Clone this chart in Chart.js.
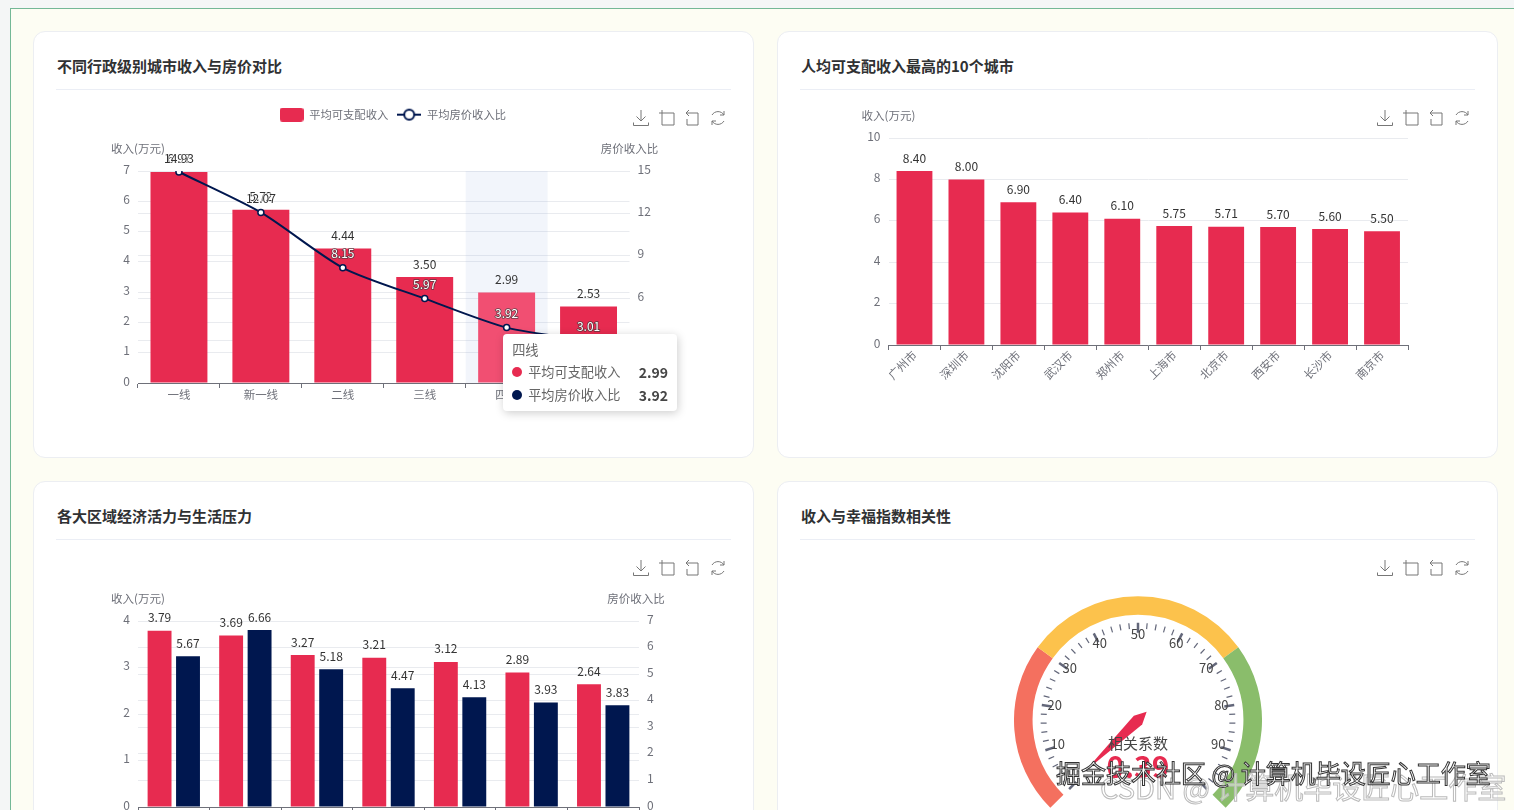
<!DOCTYPE html>
<html>
<head>
<meta charset="utf-8">
<script src="https://cdn.jsdelivr.net/npm/chart.js@4/dist/chart.umd.js"></script>
<style>
  html, body { margin: 0; height: 810px; overflow: hidden; background: #f4f6f6; }
  body { font-family: "Noto Sans CJK SC", sans-serif; position: relative; width: 1514px; }
  .frame { position: absolute; left: 10px; top: 8px; width: 1520px; height: 900px; border: 1px solid #74b896; background: #fdfdf3; }
  .card { position: absolute; background: #fff; border: 1px solid #eceef2; border-radius: 12px; box-sizing: border-box; width: 721px; }
  .card h3 { position: absolute; left: 23px; top: 23px; margin: 0; font-size: 15px; line-height: 22px; font-weight: 700; color: #303133; }
  .card hr { position: absolute; left: 22px; right: 22px; top: 57px; margin: 0; border: 0; border-top: 1px solid #ebeef5; }
  .card canvas { position: absolute; left: 0; }
  .tools { position: absolute; display: flex; gap: 7.6px; }
  .tools svg { width: 18px; height: 18px; fill: none; stroke: #777; stroke-width: 1; }
  .tip { position: absolute; width: 174px; height: 77px; box-sizing: border-box; background: #fff; border-radius: 4px; box-shadow: 1px 2px 10px rgba(0,0,0,.2); padding: 5px 9px 4px 9px; font-size: 13.2px; line-height: 22.5px; color: #666; }
  .tip div { display: flex; align-items: center; }
  .tip i { width: 10px; height: 10px; border-radius: 50%; margin-right: 6px; }
  .tip b { margin-left: auto; color: #464646; font-size: 14px; }
  .mark { position: absolute; white-space: nowrap; }
  #mark1 { left: 1056px; top: 755px; font-size: 25px; line-height: 34px; color: #fff; -webkit-text-stroke: 1px #333; }
  #mark2 { left: 1100px; top: 768px; font-size: 29px; line-height: 36px; color: rgba(255,255,255,.5); -webkit-text-stroke: 1px #bbb; }
</style>
</head>
<body>
<div class="frame"></div>

<div class="card" style="left:33px;top:31px;height:427px">
  <h3>不同行政级别城市收入与房价对比</h3><hr>
  <canvas id="tierChart" style="top:68px"></canvas>
</div>
<div class="card" style="left:777px;top:31px;height:427px">
  <h3>人均可支配收入最高的10个城市</h3><hr>
  <canvas id="cityChart" style="top:68px"></canvas>
</div>
<div class="card" style="left:33px;top:481px;height:420px">
  <h3>各大区域经济活力与生活压力</h3><hr>
  <canvas id="regionChart" style="top:68px"></canvas>
</div>
<div class="card" style="left:777px;top:481px;height:420px">
  <h3>收入与幸福指数相关性</h3><hr>
  <canvas id="gaugeChart"></canvas>
</div>

<div class="mark" id="mark2">CSDN @ 计算机毕设匠心工作室</div>
<div class="mark" id="mark1">掘金技术社区 @ 计算机毕设匠心工作室</div>

<script>
// chart data
const tierLabels = ["一线", "新一线", "二线", "三线", "四线", "五线"];
const tierIncome = [6.97, 5.72, 4.44, 3.5, 2.99, 2.53];
const tierRatio = [14.93, 12.07, 8.15, 5.97, 3.92, 3.01];

const cityLabels = ["广州市", "深圳市", "沈阳市", "武汉市", "郑州市", "上海市", "北京市", "西安市", "长沙市", "南京市"];
const cityIncome = [8.4, 8.0, 6.9, 6.4, 6.1, 5.75, 5.71, 5.7, 5.6, 5.5];

const regionLabels = ["华南", "华东", "华北", "华中", "西南", "东北", "西北"];
const regionIncome = [3.79, 3.69, 3.27, 3.21, 3.12, 2.89, 2.64];
const regionRatio = [5.67, 6.66, 5.18, 4.47, 4.13, 3.93, 3.83];

const gaugeZones = [30, 40, 30];
const gaugeTicks = [10, 20, 30, 40, 50, 60, 70, 80, 90];
const gaugeValue = 0.39;
const gaugeName = "相关系数";

const RED = "#e72b50";
const RED_HOVER = "#f14f72";
const NAVY = "#00174f";
const GRID = "#e9ebef";
const AXIS = "#6e7079";
const FONT = '"Noto Sans CJK SC", sans-serif';
const hoverIndex = 4;

Chart.defaults.font.family = FONT;
Chart.defaults.font.size = 12;
Chart.defaults.color = AXIS;
Chart.defaults.animation = false;
Chart.defaults.responsive = false;

// value labels on top of bars and points
const valueLabels = {
  id: "valueLabels",
  afterDatasetsDraw(chart) {
    const ctx = chart.ctx;
    chart.data.datasets.forEach((ds, i) => {
      const meta = chart.getDatasetMeta(i);
      meta.data.forEach((el, j) => {
        const text = ds.data[j].toFixed(2);
        ctx.save();
        ctx.font = "12px " + FONT;
        ctx.textAlign = "center";
        ctx.textBaseline = "bottom";
        if (ds.type === "line") {
          // white on the bar, dark once the label climbs above it
          const barTop = chart.getDatasetMeta(0).data[j].y;
          const above = el.y - 14 < barTop;
          ctx.lineWidth = 1.5;
          ctx.strokeStyle = above ? "rgba(255,255,255,.7)" : "rgba(60,60,60,.8)";
          ctx.fillStyle = above ? "#333" : "#fff";
          ctx.strokeText(text, el.x, el.y - 8);
          ctx.fillText(text, el.x, el.y - 8);
        } else {
          ctx.fillStyle = "#333";
          ctx.fillText(text, el.x, el.y - 7);
        }
        ctx.restore();
      });
    });
  },
};

// axis names sit above the axes, horizontally
const axisNames = {
  id: "axisNames",
  afterDraw(chart, args, opts) {
    const { ctx, chartArea } = chart;
    ctx.save();
    ctx.font = "11.5px " + FONT;
    ctx.fillStyle = AXIS;
    ctx.textAlign = "center";
    ctx.textBaseline = "middle";
    if (opts.left) ctx.fillText(opts.left, chartArea.left, chartArea.top - 22);
    if (opts.right) ctx.fillText(opts.right, chartArea.right - (opts.rightShift || 0), chartArea.top - 22);
    ctx.restore();
  },
};

// shaded band behind the hovered category
const hoverBand = {
  id: "hoverBand",
  beforeDatasetsDraw(chart, args, opts) {
    if (opts.index === undefined) return;
    const { ctx, chartArea, scales } = chart;
    const w = scales.x.width / scales.x.ticks.length;
    ctx.save();
    ctx.fillStyle = "rgba(150,170,220,0.12)";
    ctx.fillRect(scales.x.getPixelForValue(opts.index) - w / 2, chartArea.top, w, chartArea.height);
    ctx.restore();
  },
};

// the y tick numbers sit a little above their grid lines
const liftTicks = {
  id: "liftTicks",
  afterLayout(chart) {
    ["y", "y1"].forEach((id) => {
      const scale = chart.scales[id];
      if (scale) scale.getLabelItems().forEach((item) => { item.options.translation[1] -= 2; });
    });
  },
};

function yAxis(max, step, position, width) {
  return {
    position: position,
    min: 0,
    max: max,
    afterFit(scale) { scale.width = width; },
    border: { display: false },
    grid: { color: GRID, drawTicks: false },
    ticks: { stepSize: step, padding: 8, color: AXIS },
  };
}

function xAxis(height, rotation, padding) {
  return {
    afterFit(scale) { scale.height = height; },
    border: { color: AXIS },
    grid: { drawOnChartArea: false, color: AXIS, tickLength: 5 },
    ticks: { color: AXIS, padding: padding, font: { size: 11.5 }, autoSkip: false, maxRotation: rotation, minRotation: rotation },
  };
}

// tooltip as an html box, same look as the dashboard
function tierTooltip(context) {
  const tt = context.tooltip;
  if (!tt.dataPoints || !tt.dataPoints.length) return;
  let box = document.getElementById("tierTip");
  if (!box) {
    box = document.createElement("div");
    box.id = "tierTip";
    box.className = "tip";
    context.chart.canvas.parentNode.appendChild(box);
  }
  const line = tt.dataPoints[1].element;
  const rows = tt.dataPoints.map((p) =>
    `<div><i style="background:${p.dataset.dotColor}"></i>${p.dataset.label}<b>${p.raw.toFixed(2)}</b></div>`
  );
  box.innerHTML = `<div>${tt.dataPoints[0].label}</div>` + rows.join("");
  box.style.left = line.x - 3.5 + "px";
  box.style.top = line.y + 68 + 6 + "px";
}

function legendIcon(draw) {
  const c = document.createElement("canvas");
  c.width = 24;
  c.height = 14;
  draw(c.getContext("2d"));
  return c;
}
const barIcon = legendIcon((g) => {
  g.fillStyle = RED;
  g.beginPath();
  g.roundRect(0, 0, 24, 14, 3);
  g.fill();
});
const lineIcon = legendIcon((g) => {
  g.strokeStyle = NAVY;
  g.lineWidth = 2;
  g.beginPath();
  g.moveTo(0, 7);
  g.lineTo(24, 7);
  g.stroke();
  g.fillStyle = "#fff";
  g.beginPath();
  g.arc(12, 7, 5, 0, Math.PI * 2);
  g.fill();
  g.stroke();
});

// make room under the legend so the plot starts where it should
const legendRoom = {
  id: "legendRoom",
  beforeInit(chart) {
    const fit = chart.legend.fit;
    chart.legend.fit = function () {
      fit.call(this);
      this.height = 71;
    };
  },
};

function setCanvas(id, w, h) {
  const c = document.getElementById(id);
  c.width = w;
  c.height = h;
  return c;
}

// chart 1
const tierChart = new Chart(setCanvas("tierChart", 719, 358), {
  type: "bar",
  data: {
    labels: tierLabels,
    datasets: [
      {
        type: "bar",
        label: "平均可支配收入",
        data: tierIncome,
        yAxisID: "y",
        order: 2,
        dotColor: RED,
        backgroundColor: (c) => (c.dataIndex === hoverIndex ? RED_HOVER : RED),
        barPercentage: 0.695,
        categoryPercentage: 1,
      },
      {
        type: "line",
        label: "平均房价收入比",
        data: tierRatio,
        yAxisID: "y1",
        order: 1,
        dotColor: NAVY,
        borderColor: NAVY,
        borderWidth: 2,
        tension: 0.25,
        pointRadius: 3,
        pointBorderWidth: 1.5,
        pointBackgroundColor: "#fff",
        pointBorderColor: NAVY,
      },
    ],
  },
  options: {
    events: [],
    layout: { padding: { left: 62, right: 63.5, top: 0, bottom: 0 } },
    scales: {
      x: xAxis(75, 0, 0),
      y: yAxis(7, 1, "left", 42),
      y1: yAxis(15, 3, "right", 60),
    },
    plugins: {
      legend: {
        align: "center",
        labels: {
          usePointStyle: true,
          pointStyleWidth: 24,
          color: AXIS,
          font: { size: 11.3 },
          boxHeight: 12,
          padding: 9,
          generateLabels: (chart) =>
            chart.data.datasets.map((ds, i) => ({
              text: ds.label,
              pointStyle: i === 0 ? barIcon : lineIcon,
              fontColor: AXIS,
              lineWidth: 0,
              datasetIndex: i,
            })),
        },
      },
      tooltip: { enabled: false, mode: "index", external: tierTooltip },
      axisNames: { left: "收入(万元)", right: "房价收入比" },
      hoverBand: { index: hoverIndex },
    },
  },
  plugins: [legendRoom, liftTicks, valueLabels, axisNames, hoverBand],
});
tierChart.tooltip.setActiveElements(
  [
    { datasetIndex: 0, index: hoverIndex },
    { datasetIndex: 1, index: hoverIndex },
  ],
  { x: 0, y: 0 }
);

// chart 2
new Chart(setCanvas("cityChart", 719, 358), {
  type: "bar",
  data: {
    labels: cityLabels,
    datasets: [
      {
        label: "平均可支配收入",
        data: cityIncome,
        backgroundColor: RED,
        barPercentage: 0.69,
        categoryPercentage: 1,
      },
    ],
  },
  options: {
    events: [],
    layout: { padding: { left: 62.5, right: 89, top: 38, bottom: 0 } },
    scales: {
      x: xAxis(113, 45, -2),
      y: yAxis(10, 2, "left", 48),
    },
    plugins: {
      legend: { display: false },
      tooltip: { enabled: false },
      axisNames: { left: "收入(万元)" },
    },
  },
  plugins: [liftTicks, valueLabels, axisNames],
});

// chart 3
new Chart(setCanvas("regionChart", 719, 350), {
  type: "bar",
  data: {
    labels: regionLabels,
    datasets: [
      {
        label: "平均可支配收入",
        data: regionIncome,
        yAxisID: "y",
        backgroundColor: RED,
        barPercentage: 0.84,
        categoryPercentage: 0.795,
      },
      {
        label: "平均房价收入比",
        data: regionRatio,
        yAxisID: "y1",
        backgroundColor: NAVY,
        barPercentage: 0.84,
        categoryPercentage: 0.795,
      },
    ],
  },
  options: {
    events: [],
    layout: { padding: { left: 62, right: 54, top: 71, bottom: 0 } },
    scales: {
      x: xAxis(93, 0, 0),
      y: yAxis(4, 1, "left", 42),
      y1: yAxis(7, 1, "right", 60),
    },
    plugins: {
      legend: { display: false },
      tooltip: { enabled: false },
      axisNames: { left: "收入(万元)", right: "房价收入比", rightShift: 3 },
    },
  },
  plugins: [liftTicks, valueLabels, axisNames],
});

// gauge dial: ticks, numbers, pointer and the read-out drawn on the doughnut centre
const gaugeDial = {
  id: "gaugeDial",
  afterDatasetsDraw(chart) {
    const { ctx } = chart;
    const arc = chart.getDatasetMeta(0).data[0];
    const cx = arc.x;
    const cy = arc.y;
    const R = arc.innerRadius;
    const toAngle = (v) => ((-225 + (v / 100) * 270) * Math.PI) / 180;

    ctx.save();
    ctx.strokeStyle = "#63677a";
    for (let v = 0; v <= 100; v += 2) {
      const major = v % 10 === 0;
      const a = toAngle(v);
      const r1 = R - 8;
      const r2 = r1 - (major ? 10 : 6);
      ctx.lineWidth = major ? 2.5 : 1.2;
      ctx.beginPath();
      ctx.moveTo(cx + r1 * Math.cos(a), cy + r1 * Math.sin(a));
      ctx.lineTo(cx + r2 * Math.cos(a), cy + r2 * Math.sin(a));
      ctx.stroke();
    }
    ctx.font = "13px " + FONT;
    ctx.fillStyle = "#464646";
    ctx.textAlign = "center";
    ctx.textBaseline = "middle";
    gaugeTicks.forEach((v) => {
      const a = toAngle(v);
      ctx.fillText(v, cx + (R - 21) * Math.cos(a), cy + (R - 21) * Math.sin(a) - 2);
    });

    // pointer
    const a = toAngle(gaugeValue);
    ctx.translate(cx, cy);
    ctx.rotate(a);
    ctx.fillStyle = RED;
    ctx.beginPath();
    ctx.moveTo(74, 0);
    ctx.lineTo(0, -6);
    ctx.lineTo(-12, 0);
    ctx.lineTo(0, 6);
    ctx.closePath();
    ctx.fill();
    ctx.restore();

    ctx.save();
    ctx.textAlign = "center";
    ctx.textBaseline = "middle";
    ctx.fillStyle = "#464646";
    ctx.font = "15px " + FONT;
    ctx.fillText(gaugeName, cx, cy + 23);
    ctx.fillStyle = RED;
    ctx.font = "bold 30px " + FONT;
    ctx.fillText(gaugeValue.toFixed(2), cx, cy + 46);
    ctx.restore();
  },
};

const gaugeCanvas = setCanvas("gaugeChart", 248, 212);
gaugeCanvas.style.left = "236px";
gaugeCanvas.style.top = "114px";
new Chart(gaugeCanvas, {
  type: "doughnut",
  data: {
    labels: ["低", "中", "高"],
    datasets: [
      {
        data: gaugeZones,
        backgroundColor: ["#f4705f", "#fcc24c", "#8abd6b"],
        borderWidth: 0,
      },
    ],
  },
  options: {
    events: [],
    rotation: -135,
    circumference: 270,
    cutout: "85%",
    plugins: { legend: { display: false }, tooltip: { enabled: false } },
  },
  plugins: [gaugeDial],
});

// toolbox icons in the corner of each card
const toolIcons = [
  '<path d="M9 1v11M4.5 7.5L9 12l4.5-4.5M1.5 13.5v3h15v-3"/>',
  '<path d="M1 4h3M4 1v15h12V4H4"/>',
  '<path d="M6 1L3 4l3 3M3 4h12v12H4v-6"/>',
  '<path d="M15 6A7 7 0 0 0 3 6M3 12a7 7 0 0 0 12 0M15 2v4h-4M3 16v-4h4"/>',
];
document.querySelectorAll(".card").forEach((card) => {
  const bar = document.createElement("div");
  bar.className = "tools";
  bar.style.left = "598px";
  bar.style.top = "77px";
  bar.innerHTML = toolIcons.map((d) => `<svg viewBox="0 0 18 18">${d}</svg>`).join("");
  card.appendChild(bar);
});
</script>
</body>
</html>
